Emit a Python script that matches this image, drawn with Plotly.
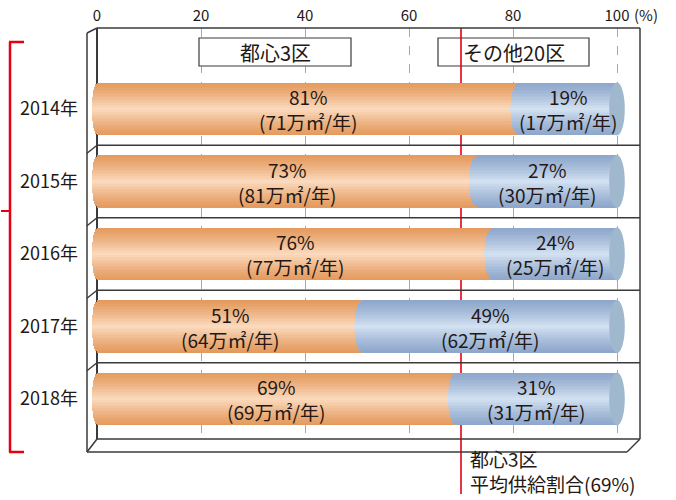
import math
import plotly.graph_objects as go

# ---------------- data ----------------
years = ["2014年", "2015年", "2016年", "2017年", "2018年"]
center3_pct = [81, 73, 76, 51, 69]
other20_pct = [19, 27, 24, 49, 31]
center3_area = [71, 81, 77, 64, 69]
other20_area = [17, 30, 25, 62, 31]
series_names = ["都心3区", "その他20区"]
x_ticks = [0, 20, 40, 60, 80, 100]
avg_note = ["都心3区", "平均供給割合(69%)"]
avg_line_value = 70  # position of the red reference line as drawn

# ---------------- geometry ----------------
W, H = 676, 500
L, R, T, B = 87, 36, 28, 61
PW, PH = W - L - R, H - T - B
PX_PER_UNIT = 5.2
X0_PX = 97
XMIN = -(X0_PX - L) / PX_PER_UNIT
XMAX = XMIN + PW / PX_PER_UNIT
ROW_PX = 72.5
ROW0_PX = 109
Y_TOP = (T - ROW0_PX) / ROW_PX
Y_BOT = (T + PH - ROW0_PX) / ROW_PX


def pxx(px):
    return (px - L) / PW


def pxy(py):
    return (T + PH - py) / PH


def dy(py):
    return (py - ROW0_PX) / ROW_PX


def dx(px):
    return (px - X0_PX) / PX_PER_UNIT


TEXT = "#231815"
FONT = "Noto Sans CJK JP"
FRAME = "#3a3a3a"
RED = "#e50012"

ORANGE_EDGE = (229, 155, 95)
ORANGE_MID = (252, 222, 196)
BLUE_EDGE = (142, 167, 203)
BLUE_MID = (215, 229, 244)
BLUE_CAP = "rgb(160,184,206)"


def mix(a, b, f):
    return "rgb(%d,%d,%d)" % tuple(round(a[i] + (b[i] - a[i]) * f) for i in range(3))


bar_w = 0.73
RH = bar_w / 2
r_or = 1.0
r_bl = 1.5
NL = 18

rows = list(range(len(years)))
total = [a + b for a, b in zip(center3_pct, other20_pct)]

fig = go.Figure()

for k in range(NL):
    h = RH * (1 - k / NL)
    t = h / RH
    s = math.sqrt(max(0.0, 1 - t * t))
    f = (1 - t) ** 1.25
    base_o = [-r_or * s for _ in rows]
    len_o = [v + r_or * s for v in center3_pct]
    fig.add_trace(go.Bar(
        y=rows, x=len_o, base=base_o, orientation="h", width=2 * h,
        marker=dict(color=mix(ORANGE_EDGE, ORANGE_MID, f), line=dict(width=0)),
        showlegend=False, hoverinfo="skip", name=series_names[0]))
for k in range(NL):
    h = RH * (1 - k / NL)
    t = h / RH
    s = math.sqrt(max(0.0, 1 - t * t))
    f = (1 - t) ** 1.25
    base_b = [v - r_bl * s for v in center3_pct]
    len_b = [tt - b for tt, b in zip(total, base_b)]
    fig.add_trace(go.Bar(
        y=rows, x=len_b, base=base_b, orientation="h", width=2 * h,
        marker=dict(color=mix(BLUE_EDGE, BLUE_MID, f), line=dict(width=0)),
        showlegend=False, hoverinfo="skip", name=series_names[1]))

shapes = []
# end caps of the blue cylinders
for i in rows:
    shapes.append(dict(type="circle", xref="x", yref="y",
                       x0=total[i] - r_bl, x1=total[i] + r_bl,
                       y0=i - RH, y1=i + RH,
                       fillcolor=BLUE_CAP, line=dict(width=0), layer="above"))

# legend boxes (white, above grid)
legend_boxes = [(199, 351), (438, 589)]
for (a, b) in legend_boxes:
    shapes.append(dict(type="rect", xref="x", yref="y", x0=dx(a), x1=dx(b),
                       y0=dy(38), y1=dy(66), fillcolor="white",
                       line=dict(color=FRAME, width=1.2), layer="between"))

# red reference line (inside plot, under bars)
shapes.append(dict(type="line", xref="x", yref="y", x0=avg_line_value, x1=avg_line_value,
                   y0=Y_TOP, y1=Y_BOT, line=dict(color=RED, width=1.6), layer="between"))
red_px = X0_PX + avg_line_value * PX_PER_UNIT
shapes.append(dict(type="line", xref="paper", yref="paper", x0=pxx(red_px), x1=pxx(red_px),
                   y0=pxy(T + PH), y1=pxy(494), line=dict(color=RED, width=1.6)))


def pline(x0, y0, x1, y1, color=FRAME, width=1.5):
    shapes.append(dict(type="line", xref="paper", yref="paper",
                       x0=pxx(x0), y0=pxy(y0), x1=pxx(x1), y1=pxy(y1),
                       line=dict(color=color, width=width)))


# 3-D frame
right_px = L + PW
bot_px = T + PH
pline(X0_PX, T, right_px, T)                 # back top
pline(right_px, T, right_px, bot_px)         # back right
pline(X0_PX, bot_px, right_px, bot_px)       # back bottom
pline(L, 33, L, 452)                         # front left
pline(L, 33, X0_PX, T)                       # top-left diagonal
pline(L, 452, 627, 452)                      # front bottom
pline(L, 452, X0_PX, bot_px)                 # bottom-left diagonal
pline(627, 452, right_px, bot_px)            # bottom-right diagonal
for i in range(len(years) - 1):
    sp = ROW0_PX + ROW_PX * (i + 0.5)
    pline(X0_PX, sp, right_px, sp)
    pline(L, sp + 8, X0_PX, sp)

# red bracket on the left
pline(10, 42, 10, 452, RED, 2.5)
pline(9, 42, 24, 42, RED, 2.5)
pline(9, 452, 24, 452, RED, 2.5)
pline(1, 211, 10, 211, RED, 2.0)

ann = []
for i in rows:
    oc = center3_pct[i] / 2
    bc = center3_pct[i] + other20_pct[i] / 2
    for xc, pct, area in ((oc, center3_pct[i], center3_area[i]),
                          (bc, other20_pct[i], other20_area[i])):
        ann.append(dict(x=xc, y=i, xref="x", yref="y",
                        text=f"{pct}%<br>({area}万㎡/年)", showarrow=False,
                        yshift=0, font=dict(family=FONT, size=19, color=TEXT)))

for (a, b), name in zip(legend_boxes, series_names):
    ann.append(dict(x=dx((a + b) / 2), y=dy(52), xref="x", yref="y", text=name,
                    showarrow=False, font=dict(family=FONT, size=20, color=TEXT)))

ann.append(dict(x=pxx(468), y=pxy(499), xref="paper", yref="paper",
                text=avg_note[0] + "<br>" + avg_note[1], align="left",
                xanchor="left", yanchor="bottom", showarrow=False,
                font=dict(family=FONT, size=19, color=TEXT)))
ann.append(dict(x=pxx(632), y=pxy(14), xref="paper", yref="paper", text="(%)",
                xanchor="left", yanchor="middle", showarrow=False,
                font=dict(family=FONT, size=15, color=TEXT)))

fig.update_layout(
    width=W, height=H, margin=dict(l=L, r=R, t=T, b=B, autoexpand=False),
    barmode="overlay", bargap=0,
    paper_bgcolor="white", plot_bgcolor="rgba(0,0,0,0)",
    showlegend=False, shapes=shapes, annotations=ann,
    font=dict(family=FONT, color=TEXT),
    xaxis=dict(range=[XMIN, XMAX], side="top", tickvals=x_ticks,
               ticktext=[str(v) for v in x_ticks], ticks="", showgrid=True,
               gridcolor="#a8a8a8", griddash="dash", gridwidth=1,
               zeroline=True, zerolinecolor=FRAME, zerolinewidth=1.5,
               showline=False, tickfont=dict(family=FONT, size=15, color=TEXT),
               ticklabelstandoff=3, fixedrange=True),
    yaxis=dict(range=[Y_BOT, Y_TOP], tickvals=rows, ticktext=years, ticks="",
               showgrid=False, zeroline=False, showline=False,
               tickfont=dict(family=FONT, size=18, color=TEXT),
               ticklabelstandoff=8, fixedrange=True),
)

fig.write_html("out.html")
